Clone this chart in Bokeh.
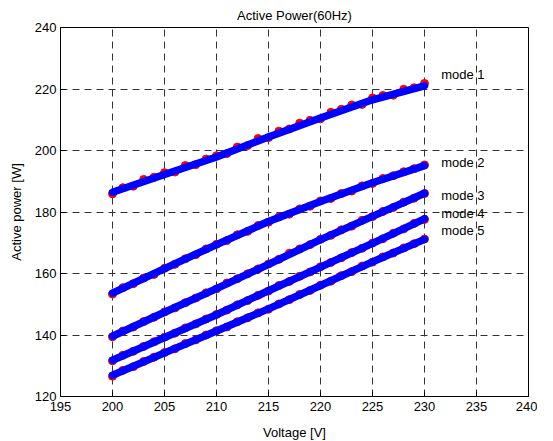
from bokeh.plotting import figure
from bokeh.models import FixedTicker, Range1d, Label
from bokeh.embed import file_html
from bokeh.resources import INLINE

# ---------------- data ----------------
voltage = list(range(200, 231))
fit_voltage = [200, 205, 210, 215, 220, 225, 230]

mode1_meas = [185.9, 187.9, 188.4, 190.6, 191.3, 192.8, 193.0, 195.1, 195.4, 197.2,
              198.3, 199.0, 201.1, 201.6, 203.9, 204.2, 206.3, 207.0, 208.9, 209.8,
              210.3, 212.4, 213.4, 214.8, 215.0, 217.1, 217.9, 218.0, 219.9, 220.4, 221.8]
mode2_meas = [153.3, 155.4, 156.7, 158.5, 159.7, 161.7, 163.0, 164.8, 166.1, 168.0,
              169.5, 170.7, 172.6, 173.7, 175.6, 176.7, 178.4, 179.3, 181.0, 181.9,
              183.6, 184.4, 186.0, 186.8, 188.5, 189.3, 190.9, 191.8, 193.1, 194.1, 195.3]
mode3_meas = [139.4, 141.3, 142.6, 144.4, 145.8, 147.5, 148.8, 150.5, 152.0, 153.7,
              155.0, 156.9, 158.3, 159.9, 161.5, 163.1, 164.6, 166.6, 168.0, 169.4,
              171.1, 172.4, 174.2, 175.4, 177.3, 178.5, 180.2, 181.5, 183.2, 184.5, 186.0]
mode4_meas = [131.6, 133.4, 134.7, 136.3, 137.8, 139.3, 140.6, 142.3, 143.6, 145.2,
              146.7, 148.1, 149.8, 151.2, 152.9, 154.3, 156.1, 157.4, 159.1, 160.5,
              162.2, 163.6, 165.1, 166.8, 168.2, 169.9, 171.3, 173.1, 174.5, 176.3, 177.6]
mode5_meas = [126.6, 128.5, 129.7, 131.4, 132.8, 134.3, 135.5, 137.2, 138.4, 140.0,
              141.4, 142.6, 144.3, 145.6, 147.2, 148.4, 150.1, 151.5, 153.2, 154.5,
              156.2, 157.5, 159.3, 160.6, 162.4, 163.7, 165.4, 166.7, 168.3, 169.7, 171.2]

mode1_fit = [186.4, 192.2, 197.9, 204.4, 210.6, 216.5, 221.0]
mode2_fit = [153.6, 161.6, 169.4, 176.9, 183.4, 189.5, 195.1]
mode3_fit = [139.6, 147.4, 155.1, 163.0, 171.0, 178.6, 186.1]
mode4_fit = [131.8, 139.2, 146.6, 154.4, 162.1, 169.8, 177.8]
mode5_fit = [126.9, 134.2, 141.3, 148.5, 156.1, 163.8, 171.1]

mode_names = ["mode 1", "mode 2", "mode 3", "mode 4", "mode 5"]
label_voltage = 231.6
label_power = [224.8, 196.1, 185.5, 179.5, 173.9]

x_ticks = [195, 200, 205, 210, 215, 220, 225, 230, 235, 240]
y_ticks = [120, 140, 160, 180, 200, 220, 240]

FONT = "Liberation Sans"

# ---------------- figure ----------------
p = figure(frame_width=468, frame_height=369,
           x_range=Range1d(195, 240), y_range=Range1d(120, 240),
           output_backend="svg", toolbar_location=None,
           title="Active Power(60Hz)",
           min_border_left=60, min_border_right=9,
           min_border_top=22, min_border_bottom=46)

p.title.align = "center"
p.title.text_font = FONT
p.title.text_font_size = "13px"
p.title.text_font_style = "normal"
p.title.text_color = "black"

p.outline_line_color = "black"
p.outline_line_width = 1
p.outline_line_alpha = 1

for ax, ticks in ((p.xaxis[0], x_ticks), (p.yaxis[0], y_ticks)):
    ax.ticker = FixedTicker(ticks=ticks)
    ax.major_tick_in = 5
    ax.major_tick_out = 0
    ax.minor_tick_line_color = None
    ax.axis_line_color = "black"
    ax.major_tick_line_color = "black"
    ax.major_label_text_font = FONT
    ax.major_label_text_font_size = "13px"
    ax.major_label_text_color = "black"
    ax.axis_label_text_font = FONT
    ax.axis_label_text_font_size = "13px"
    ax.axis_label_text_font_style = "normal"
    ax.axis_label_text_color = "black"

p.xaxis.axis_label = "Voltage [V]"
p.yaxis.axis_label = "Active power [W]"
p.xaxis.major_label_standoff = 5
p.xaxis.axis_label_standoff = 11
p.yaxis.major_label_standoff = 4
p.yaxis.axis_label_standoff = 8

p.xgrid.ticker = FixedTicker(ticks=x_ticks)
p.ygrid.ticker = FixedTicker(ticks=y_ticks)
p.grid.grid_line_color = "#333333"
p.grid.grid_line_width = 1
p.grid.grid_line_dash = "7 5"
p.grid.grid_line_alpha = 1

meas = [mode1_meas, mode2_meas, mode3_meas, mode4_meas, mode5_meas]
fits = [mode1_fit, mode2_fit, mode3_fit, mode4_fit, mode5_fit]

for m in meas:
    p.scatter(voltage, m, size=8, fill_color="#ff0000", line_color="#ff0000")
for f in fits:
    p.line(fit_voltage, f, line_color="#0000ff", line_width=7.5,
           line_cap="round", line_join="round")

for name, w in zip(mode_names, label_power):
    p.add_layout(Label(x=label_voltage, y=w, text=name, text_font=FONT,
                       text_font_size="13px", text_color="black",
                       text_baseline="middle", text_align="left"))

open("out.html", "w").write(file_html(p, INLINE))
